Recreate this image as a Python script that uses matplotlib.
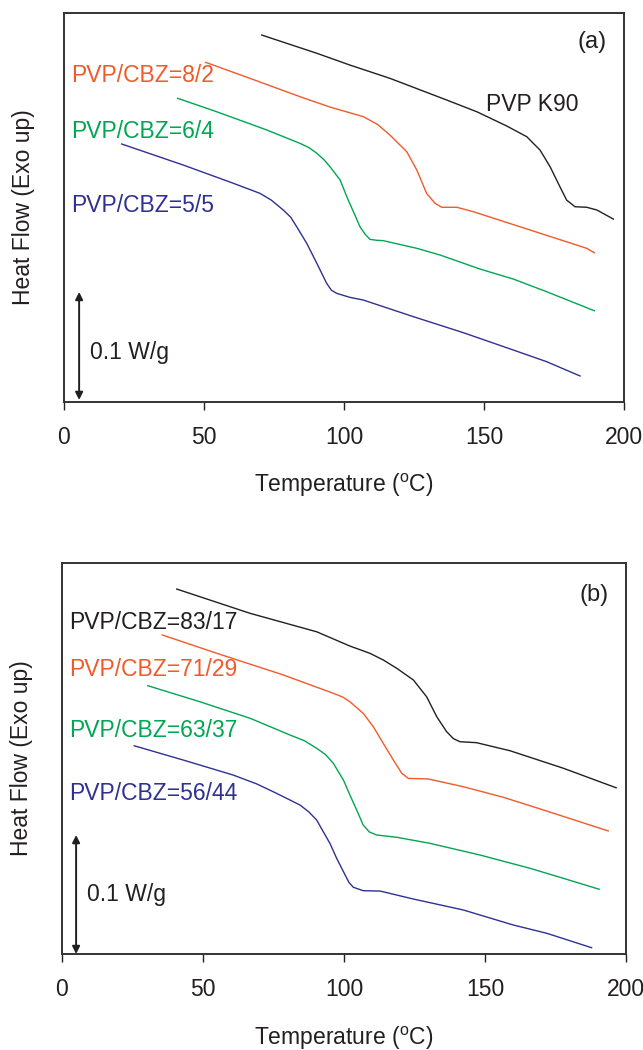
import matplotlib
matplotlib.use("Agg")
import matplotlib.pyplot as plt

plt.rcParams['font.family'] = ['Liberation Sans', 'DejaVu Sans']
plt.rcParams['mathtext.fontset'] = 'custom'
plt.rcParams['mathtext.rm'] = 'Liberation Sans'

# ---------------- Panel (a) data: Temperature (C), Heat flow (W/g, offset) ----------------
a_k90_T = [70.6, 90.3, 102.1, 116.4, 136.7, 147.4, 158.1, 165.3, 170.0, 173.6, 177.1, 179.5, 182.5, 186.7, 190.3, 196.2]
a_k90_H = [0.3398, 0.3229, 0.3120, 0.2997, 0.2796, 0.2688, 0.2556, 0.2456, 0.2333, 0.2179, 0.1994, 0.1870, 0.1808, 0.1803, 0.1778, 0.1694]

a_82_T = [50.6, 66.4, 84.3, 95.0, 106.9, 112.0, 116.4, 122.4, 126.0, 129.5, 132.5, 134.9, 140.3, 146.2, 166.4, 186.7, 189.4]
a_82_H = [0.3145, 0.2997, 0.2827, 0.2731, 0.2642, 0.2570, 0.2472, 0.2318, 0.2148, 0.1932, 0.1840, 0.1803, 0.1803, 0.1762, 0.1593, 0.1423, 0.1382]

a_64_T = [40.6, 54.5, 72.4, 84.3, 87.5, 90.3, 92.8, 95.0, 98.6, 101.5, 103.9, 105.7, 107.5, 109.3, 111.5, 114.0, 126.0, 134.3, 148.6, 160.4, 172.4, 189.4]
a_64_H = [0.2812, 0.2688, 0.2519, 0.2395, 0.2355, 0.2303, 0.2245, 0.2179, 0.2056, 0.1870, 0.1731, 0.1623, 0.1555, 0.1506, 0.1498, 0.1494, 0.1423, 0.1361, 0.1231, 0.1139, 0.1021, 0.0845]

a_55_T = [20.6, 42.6, 60.5, 70.0, 74.0, 78.3, 81.0, 83.1, 86.7, 90.3, 93.8, 95.5, 97.4, 102.1, 106.9, 124.8, 142.6, 160.5, 172.4, 184.3]
a_55_H = [0.2389, 0.2194, 0.2025, 0.1932, 0.1870, 0.1778, 0.1710, 0.1623, 0.1469, 0.1284, 0.1099, 0.1035, 0.1006, 0.0969, 0.0944, 0.0790, 0.0642, 0.0481, 0.0373, 0.0241]

# ---------------- Panel (b) data ----------------
b_8317_T = [40.7, 66.7, 90.3, 102.1, 109.2, 114.0, 118.7, 124.6, 129.3, 132.9, 136.4, 138.8, 141.1, 147.0, 158.9, 177.8, 196.5]
b_8317_H = [0.3067, 0.2863, 0.2708, 0.2588, 0.2527, 0.2470, 0.2401, 0.2303, 0.2162, 0.1994, 0.1868, 0.1810, 0.1784, 0.1776, 0.1708, 0.1561, 0.1397]

b_7129_T = [35.6, 54.9, 78.5, 96.2, 99.5, 102.1, 106.8, 110.4, 113.9, 117.5, 120.5, 122.8, 129.9, 142.3, 156.5, 171.3, 193.7]
b_7129_H = [0.2681, 0.2527, 0.2345, 0.2191, 0.2160, 0.2120, 0.2023, 0.1910, 0.1771, 0.1630, 0.1518, 0.1476, 0.1471, 0.1406, 0.1317, 0.1206, 0.1034]

b_6337_T = [30.4, 48.9, 66.7, 80.9, 86.0, 90.3, 93.5, 96.2, 99.8, 102.1, 104.5, 106.8, 109.0, 111.6, 118.7, 130.5, 148.2, 166.0, 177.8, 190.5]
b_6337_H = [0.2255, 0.2120, 0.1981, 0.1840, 0.1792, 0.1729, 0.1675, 0.1603, 0.1462, 0.1336, 0.1210, 0.1084, 0.1025, 0.1000, 0.0981, 0.0930, 0.0832, 0.0720, 0.0636, 0.0544]

b_5644_T = [25.6, 43.0, 60.7, 69.0, 76.1, 84.4, 87.5, 90.3, 95.0, 97.4, 100.4, 101.8, 103.3, 106.8, 112.8, 124.6, 142.3, 160.0, 171.9, 187.8]
b_5644_H = [0.1750, 0.1630, 0.1504, 0.1430, 0.1350, 0.1252, 0.1195, 0.1126, 0.0930, 0.0804, 0.0664, 0.0600, 0.0561, 0.0532, 0.0529, 0.0462, 0.0370, 0.0244, 0.0174, 0.0053]

a_labels = ["PVP K90", "PVP/CBZ=8/2", "PVP/CBZ=6/4", "PVP/CBZ=5/5"]
b_labels = ["PVP/CBZ=83/17", "PVP/CBZ=71/29", "PVP/CBZ=63/37", "PVP/CBZ=56/44"]
xticks = [0, 50, 100, 150, 200]
scale_bar = 0.1  # W/g

colors = ['#231f20', '#f15a29', '#00a651', '#2e3192']
FS = 16.5

fig = plt.figure(figsize=(6.43, 10.5), dpi=100)
ax_a = fig.add_axes([64/643, (1050-402)/1050, 560/643, 389/1050])
ax_b = fig.add_axes([62/643, (1050-954)/1050, 564/643, 391/1050])

def style(ax, ytop):
    ax.set_xlim(0, 200)
    ax.set_ylim(0, ytop)
    ax.set_xticks(xticks)
    ax.set_yticks([])
    ax.tick_params(axis='x', direction='out', length=6, width=1.0, pad=11,
                   labelsize=FS, colors='#231f20')
    for s in ax.spines.values():
        s.set_linewidth(1.4)
        s.set_color('#333333')
    ax.set_xlabel('Temperature ($^{\\mathrm{o}}$C)', fontsize=FS, color='#231f20')
    ax.xaxis.set_label_coords(0.5, -0.18)
    ax.set_ylabel('Heat Flow (Exo up)', fontsize=FS, color='#231f20')
    ax.yaxis.set_label_coords(-0.052, 0.5)

# Panel (a)
style(ax_a, 0.3602)
for T, H, c in zip([a_k90_T, a_82_T, a_64_T, a_55_T], [a_k90_H, a_82_H, a_64_H, a_55_H], colors):
    ax_a.plot(T, H, color=c, lw=1.0)
ax_a.text(150.6, 0.2759, a_labels[0], color=colors[0], fontsize=FS, va='center', ha='left')
ax_a.text(2.6, 0.3019, a_labels[1], color=colors[1], fontsize=FS, va='center', ha='left')
ax_a.text(2.6, 0.2509, a_labels[2], color=colors[2], fontsize=FS, va='center', ha='left')
ax_a.text(2.6, 0.1818, a_labels[3], color=colors[3], fontsize=FS, va='center', ha='left')
ax_a.text(193.8, 0.3336, '(a)', color=colors[0], fontsize=FS + 0.5, va='center', ha='right')
ax_a.annotate('', xy=(5.4, 0.0019 + scale_bar), xytext=(5.4, 0.0019),
              arrowprops=dict(arrowstyle='<|-|>', color='#231f20', lw=1.4,
                              mutation_scale=11, shrinkA=0, shrinkB=0))
ax_a.text(9.3, 0.0457, '0.1 W/g', color=colors[0], fontsize=FS, va='center', ha='left')

# Panel (b)
style(ax_b, 0.3286)
for T, H, c in zip([b_8317_T, b_7129_T, b_6337_T, b_5644_T], [b_8317_H, b_7129_H, b_6337_H, b_5644_H], colors):
    ax_b.plot(T, H, color=c, lw=1.0)
for lab, y, c in zip(b_labels, [0.2790, 0.2387, 0.1882, 0.1353], colors):
    ax_b.text(2.6, y, lab, color=c, fontsize=FS, va='center', ha='left')
ax_b.text(193.7, 0.3017, '(b)', color=colors[0], fontsize=FS + 0.5, va='center', ha='right')
ax_b.annotate('', xy=(5.0, scale_bar), xytext=(5.0, 0.0),
              arrowprops=dict(arrowstyle='<|-|>', color='#231f20', lw=1.4,
                              mutation_scale=11, shrinkA=0, shrinkB=0))
ax_b.text(8.9, 0.0496, '0.1 W/g', color=colors[0], fontsize=FS, va='center', ha='left')

fig.savefig('out.png', dpi=100)
